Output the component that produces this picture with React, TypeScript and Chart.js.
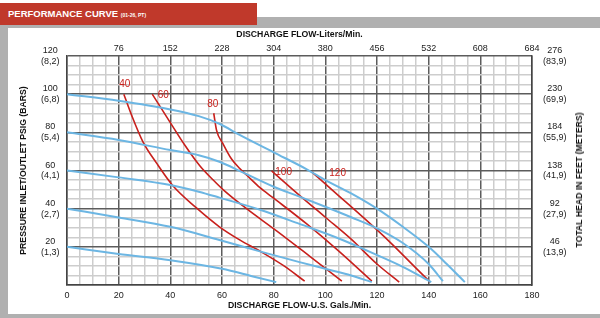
import React, { useEffect, useRef } from "react";
import { Chart, registerables } from "chart.js";
Chart.register(...registerables);

// Tick labels
const gpmLabels = ["0", "20", "40", "60", "80", "100", "120", "140", "160", "180"];
const litersLabels = ["", "76", "152", "228", "304", "380", "456", "532", "608", "684"];
const psiLabels = ["", "20", "40", "60", "80", "100", "120"];
const barLabels = ["", "(1,3)", "(2,7)", "(4,1)", "(5,4)", "(6,8)", "(8,2)"];
const feetLabels = ["", "46", "92", "138", "184", "230", "276"];
const meterLabels = ["", "(13,9)", "(27,9)", "(41,9)", "(55,9)", "(69,9)", "(83,9)"];

// Head curves (blue): flow in U.S. gal/min, pressure in PSIG
const flow100 = [0, 20, 40, 51, 59, 67, 80, 93, 100, 110, 120, 130, 140, 147, 154];
const psi100 = [100, 96.5, 92, 88.5, 84.5, 78.5, 69.5, 60.5, 55, 48, 40, 30.5, 20, 11, 1.5];
const flow80 = [0, 20, 40, 51, 59, 67.6, 80, 90, 100, 110, 120, 130, 140, 145.5];
const psi80 = [80, 76, 70.7, 68, 64.6, 59.3, 51.5, 46.3, 41, 35.5, 29.7, 22, 11, 2];
const flow60 = [0, 20, 40, 51, 59, 75, 90, 105, 120, 130, 141];
const psi60 = [60, 56.4, 52.4, 48.9, 45.8, 39.3, 32, 24.5, 15.7, 9.5, 1.5];
const flow40 = [0, 20, 40, 59, 75, 90, 100, 110, 118];
const psi40 = [40, 35.4, 30.5, 23.6, 17.5, 12, 8.5, 5, 1.5];
const flow20 = [0, 20, 40, 60, 72, 81];
const psi20 = [20, 16.3, 13, 8.5, 4.5, 1.5];

// Air consumption curves (red), SCFM
const airLabels = ["40", "60", "80", "100", "120"];
const airFlow40 = [22, 25, 29.4, 34.6, 41, 50, 59, 67, 75, 84, 92];
const airPsi40 = [100, 89, 75, 64, 52, 40.5, 30.5, 23.5, 17.5, 10, 2];
const airFlow60 = [33, 39.8, 45.5, 51.4, 56.6, 60.4, 69.5, 81, 94, 106.4];
const airPsi60 = [100, 85.5, 73.5, 62.5, 55, 50, 40, 28.5, 15, 2];
const airFlow80 = [56.8, 57.9, 60.4, 63.7, 66.9, 70, 74.7, 80, 92.8, 105, 118];
const airPsi80 = [90, 81, 74, 66, 61, 57, 51, 45.5, 32, 18, 2];
const airFlow100 = [79.2, 90, 100, 110, 120, 128.6];
const airPsi100 = [59.8, 47, 35.5, 24, 11, 1.5];
const airFlow120 = [94.7, 105, 115, 125, 135, 140.6];
const airPsi120 = [59.3, 47, 35, 22.5, 9, 1.5];

const FONT = "'Liberation Sans', Arial, Helvetica, sans-serif";
const BLUE = "#6cb6e3";
const RED = "#c8201c";
const labelOffsets = [
  [1, -10],
  [11, 1],
  [-1, -9],
  [12, 1],
  [26, 1],
];

const zip = (xs: number[], ys: number[]) => xs.map((x, i) => ({ x, y: ys[i] }));

const airLabelPlugin = {
  id: "airLabels",
  afterDatasetsDraw(chart: any) {
    const ctx = chart.ctx;
    ctx.save();
    ctx.font = `10px ${FONT}`;
    ctx.fillStyle = RED;
    ctx.textAlign = "center";
    ctx.textBaseline = "middle";
    chart.data.datasets.forEach((ds: any, i: number) => {
      if (ds.airIndex === undefined) return;
      const meta = chart.getDatasetMeta(i);
      const p = meta.data[0];
      const off = labelOffsets[ds.airIndex];
      ctx.fillText(ds.label, p.x + off[0], p.y + off[1]);
    });
    ctx.restore();
  },
};

export default function App() {
  const ref = useRef<HTMLCanvasElement>(null);
  useEffect(() => {
    document.body.style.margin = "0";
    const blue = [
      [flow100, psi100],
      [flow80, psi80],
      [flow60, psi60],
      [flow40, psi40],
      [flow20, psi20],
    ].map(([f, p], i) => ({
      label: "head" + i,
      data: zip(f, p),
      borderColor: BLUE,
      borderWidth: 2,
      pointRadius: 0,
      cubicInterpolationMode: "monotone" as const,
      fill: false,
    }));
    const red = [
      [airFlow40, airPsi40],
      [airFlow60, airPsi60],
      [airFlow80, airPsi80],
      [airFlow100, airPsi100],
      [airFlow120, airPsi120],
    ].map(([f, p], i) => ({
      label: airLabels[i],
      airIndex: i,
      data: zip(f, p),
      borderColor: RED,
      borderWidth: 1.6,
      pointRadius: 0,
      cubicInterpolationMode: "monotone" as const,
      fill: false,
    }));
    const gridColor = (c: any) =>
      c.tick && Math.round(c.tick.value) % 20 === 0 ? "#5c5c5c" : "#cdcdcd";
    const tickFont = { family: FONT, size: 9 };
    const titleFont = { family: FONT, size: 8.7, weight: "bold" as const };
    const chart = new Chart(ref.current!, {
      type: "line",
      data: { datasets: [...blue, ...red] as any },
      options: {
        animation: false,
        responsive: false,
        layout: { padding: 0 },
        plugins: { legend: { display: false }, tooltip: { enabled: false } },
        scales: {
          x: {
            type: "linear",
            position: "bottom",
            min: 0,
            max: 180,
            afterFit: (s: any) => {
              s.height = 33;
            },
            ticks: {
              stepSize: 5,
              autoSkip: false,
              maxRotation: 0,
              padding: 5,
              color: "#222",
              font: tickFont,
              callback: (v: any) => (v % 20 === 0 ? gpmLabels[v / 20] : ""),
            },
            grid: { color: gridColor, lineWidth: 1.5, drawTicks: false },
            border: { color: "#444", width: 1.5 },
            title: {
              display: true,
              text: "DISCHARGE FLOW-U.S. Gals./Min.",
              color: "#111",
              font: titleFont,
              padding: { top: 0, bottom: 7 },
            },
          },
          x2: {
            type: "linear",
            position: "top",
            min: 0,
            max: 180,
            afterFit: (s: any) => {
              s.height = 56;
            },
            ticks: {
              stepSize: 20,
              autoSkip: false,
              maxRotation: 0,
              padding: 2,
              color: "#222",
              font: tickFont,
              callback: (v: any) => litersLabels[Math.round(v / 20)],
            },
            grid: { display: false, drawTicks: false },
            border: { display: false },
            title: {
              display: true,
              text: "DISCHARGE FLOW-Liters/Min.",
              color: "#111",
              font: titleFont,
              padding: { top: 29, bottom: 0 },
            },
          },
          y: {
            type: "linear",
            position: "left",
            min: 0,
            max: 120,
            afterFit: (s: any) => {
              s.width = 67;
            },
            ticks: {
              stepSize: 5,
              autoSkip: false,
              padding: 7.5,
              crossAlign: "center",
              color: "#222",
              font: tickFont,
              callback: (v: any) => {
                if (v % 20 !== 0 || v === 0) return "";
                const i = v / 20;
                return [psiLabels[i], barLabels[i]];
              },
            },
            grid: { color: gridColor, lineWidth: 1.5, drawTicks: false },
            border: { color: "#444", width: 1.5 },
            title: {
              display: true,
              text: "PRESSURE INLET/OUTLET PSIG (BARS)",
              color: "#111",
              font: titleFont,
              padding: { top: 18, bottom: 0 },
            },
          },
          y2: {
            type: "linear",
            position: "right",
            min: 0,
            max: 120,
            afterFit: (s: any) => {
              s.width = 68;
            },
            ticks: {
              stepSize: 20,
              autoSkip: false,
              padding: 11,
              crossAlign: "center",
              color: "#222",
              font: tickFont,
              callback: (v: any) => {
                const i = Math.round(v / 20);
                if (i === 0) return "";
                return [feetLabels[i], meterLabels[i]];
              },
            },
            grid: { display: false, drawTicks: false },
            border: { color: "#444", width: 1.5 },
          },
        },
      },
      plugins: [airLabelPlugin],
    });
    return () => chart.destroy();
  }, []);

  return (
    <div style={{ position: "relative", width: 600, height: 318, background: "#fff", overflow: "hidden" }}>
      <div style={{ position: "absolute", left: 0, top: 17, width: 600, height: 301, background: "#b0b0b0" }} />
      <div style={{ position: "absolute", left: 8, top: 28, width: 592, height: 286, background: "#fff" }} />
      <canvas ref={ref} width={600} height={318} style={{ position: "absolute", left: 0, top: 0, width: 600, height: 318 }} />
      <div
        style={{
          position: "absolute",
          left: 0,
          top: 3,
          width: 257,
          height: 22,
          background: "#c0392b",
          color: "#fff",
          fontFamily: FONT,
          fontWeight: "bold",
          fontSize: 9.5,
          lineHeight: "22px",
          paddingLeft: 8,
          boxSizing: "border-box",
          whiteSpace: "nowrap",
        }}
      >
        PERFORMANCE CURVE <span style={{ fontSize: 5 }}>(01-26, PT)</span>
      </div>
      <div
        style={{
          position: "absolute",
          left: 579,
          top: 180,
          transform: "translate(-50%, -50%) rotate(-90deg)",
          fontFamily: FONT,
          fontWeight: "bold",
          fontSize: 8.7,
          color: "#111",
          whiteSpace: "nowrap",
        }}
      >
        TOTAL HEAD IN FEET (METERS)
      </div>
    </div>
  );
}
